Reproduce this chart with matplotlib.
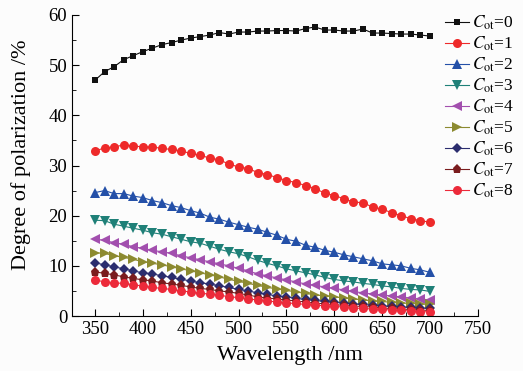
import matplotlib
matplotlib.use('Agg')
import matplotlib.pyplot as plt
from matplotlib.ticker import MultipleLocator

# wavelength grid (nm)
wavelength = list(range(350, 701, 10))

# degree of polarization (%) for each C_ot
dop_c0 = [47.0, 48.7, 49.7, 51.1, 51.9, 52.7, 53.4, 54.1, 54.5, 55.0, 55.4, 55.7,
          56.0, 56.5, 56.2, 56.6, 56.6, 56.8, 56.8, 56.9, 56.9, 56.8, 57.3, 57.6,
          57.0, 57.0, 56.8, 56.8, 57.2, 56.4, 56.4, 56.3, 56.2, 56.2, 56.0, 55.8]
dop_c1 = [32.9, 33.5, 33.7, 34.1, 33.9, 33.7, 33.7, 33.4, 33.2, 32.9, 32.4, 32.0,
          31.5, 31.1, 30.3, 29.7, 29.4, 28.6, 28.2, 27.6, 27.0, 26.6, 26.0, 25.4,
          24.5, 24.0, 23.4, 22.7, 22.6, 21.7, 21.3, 20.6, 20.0, 19.4, 19.0, 18.7]
dop_c2 = [24.6, 25.0, 24.4, 24.4, 23.9, 23.6, 23.0, 22.6, 22.0, 21.6, 21.0, 20.5,
          19.7, 19.3, 18.7, 18.2, 17.7, 17.3, 16.7, 16.1, 15.3, 14.9, 14.1, 13.7,
          13.1, 12.7, 12.2, 11.8, 11.4, 11.0, 10.4, 10.2, 10.0, 9.5, 9.2, 8.7]
dop_c3 = [19.1, 19.0, 18.3, 17.9, 17.5, 17.1, 16.6, 16.3, 15.8, 15.3, 14.8, 14.5,
          13.9, 13.3, 12.8, 12.4, 11.8, 11.1, 10.5, 10.0, 9.4, 9.0, 8.6, 8.2,
          7.7, 7.3, 7.0, 6.8, 6.5, 6.3, 6.0, 5.8, 5.5, 5.3, 5.2, 4.9]
dop_c4 = [15.3, 15.1, 14.6, 14.3, 13.8, 13.5, 13.1, 12.8, 12.5, 12.0, 11.6, 11.2,
          10.8, 10.4, 10.0, 9.5, 9.0, 8.4, 8.0, 7.6, 7.2, 6.8, 6.4, 6.1,
          5.8, 5.5, 5.2, 4.9, 4.6, 4.4, 4.2, 4.0, 3.8, 3.6, 3.4, 3.2]
dop_c5 = [12.6, 12.5, 12.0, 11.7, 11.3, 10.8, 10.5, 10.2, 9.8, 9.4, 9.0, 8.6,
          8.2, 7.8, 7.3, 6.9, 6.5, 6.1, 5.7, 5.4, 5.1, 4.8, 4.5, 4.2,
          4.0, 3.8, 3.6, 3.4, 3.2, 3.0, 2.9, 2.7, 2.6, 2.5, 2.4, 2.3]
dop_c6 = [10.6, 10.2, 9.8, 9.4, 9.0, 8.6, 8.4, 8.0, 7.7, 7.3, 7.0, 6.6,
          6.4, 6.0, 5.7, 5.3, 5.0, 4.6, 4.3, 4.0, 3.8, 3.5, 3.3, 3.1,
          2.9, 2.7, 2.6, 2.4, 2.3, 2.1, 2.0, 1.9, 1.8, 1.7, 1.6, 1.5]
dop_c7 = [8.8, 8.5, 8.2, 7.8, 7.5, 7.2, 7.0, 6.6, 6.4, 6.1, 5.8, 5.5,
          5.3, 5.0, 4.8, 4.5, 4.2, 3.8, 3.6, 3.4, 3.2, 3.0, 2.8, 2.6,
          2.4, 2.3, 2.1, 2.0, 1.9, 1.8, 1.6, 1.5, 1.4, 1.3, 1.2, 1.1]
dop_c8 = [7.2, 6.8, 6.6, 6.5, 6.2, 6.0, 5.7, 5.5, 5.3, 5.0, 4.8, 4.5,
          4.4, 4.2, 3.8, 3.7, 3.4, 3.2, 3.0, 2.8, 2.6, 2.5, 2.3, 2.2,
          2.0, 1.9, 1.8, 1.6, 1.5, 1.4, 1.3, 1.2, 1.1, 1.0, 0.9, 0.8]

c_ot = [0, 1, 2, 3, 4, 5, 6, 7, 8]
series = [dop_c0, dop_c1, dop_c2, dop_c3, dop_c4, dop_c5, dop_c6, dop_c7, dop_c8]

colors = ['#111111', '#ee2a2a', '#2450a8', '#1f8078', '#a24fae',
          '#8c8a30', '#2b2d6e', '#7a1c1e', '#ec2a3a']
markers = ['s', 'o', '^', 'v', '<', '>', 'D', 'p', 'o']
sizes = [5, 6.5, 6.5, 6.5, 6.5, 6.5, 5, 6.5, 6.5]

plt.rcParams['font.family'] = 'Liberation Serif'
plt.rcParams['mathtext.fontset'] = 'stix'

fig = plt.figure(figsize=(5.23, 3.71), dpi=100, facecolor='#fcfcfc')
ax = fig.add_axes([0.1377, 0.1482, 0.776, 0.8114])
ax.set_facecolor('#fcfcfc')

for c, dop, col, mk, ms in zip(c_ot, series, colors, markers, sizes):
    ax.plot(wavelength, dop, color=col, marker=mk, markersize=ms, lw=0.8,
            markeredgewidth=0, label=r'$C_{\rm ot}$=%d' % c)

ax.set_xlim(326, 750)
ax.set_ylim(0, 60)
ax.xaxis.set_major_locator(MultipleLocator(50))
ax.xaxis.set_minor_locator(MultipleLocator(25))
ax.yaxis.set_major_locator(MultipleLocator(10))
ax.yaxis.set_minor_locator(MultipleLocator(5))
ax.spines['top'].set_visible(False)
ax.spines['right'].set_visible(False)
ax.tick_params(which='both', direction='in', labelsize=13.5)
ax.tick_params(which='major', length=5)
ax.tick_params(which='minor', length=3)

ax.set_xlabel('Wavelength /nm', fontsize=16)
ax.set_ylabel('Degree of polarization /%', fontsize=16)
ax.xaxis.set_label_coords(0.537, -0.1)
ax.yaxis.set_label_coords(-0.1, 0.535)

fig.legend(loc='upper left', bbox_to_anchor=(0.838, 0.982), frameon=False,
           fontsize=12.5, handlelength=1.35, handletextpad=0.2, labelspacing=0.15,
           borderaxespad=0)

fig.savefig('out.png', dpi=100, facecolor=fig.get_facecolor())
